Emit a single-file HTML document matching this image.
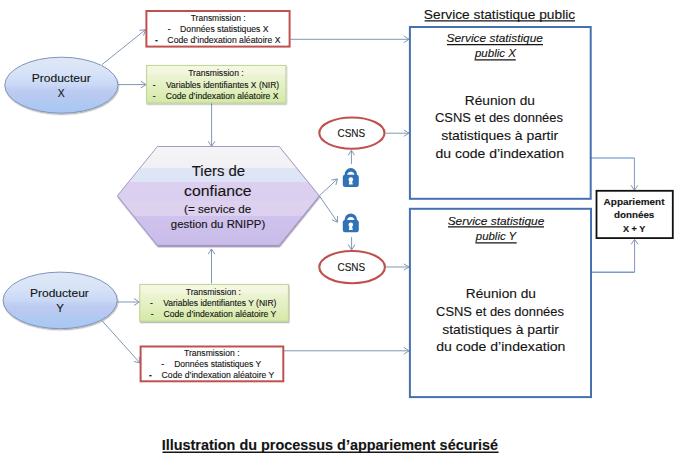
<!DOCTYPE html>
<html><head><meta charset="utf-8">
<style>
html,body{margin:0;padding:0;background:#fff;}
body{width:674px;height:465px;overflow:hidden;position:relative;}
svg{position:absolute;left:0;top:0;}
text{font-family:"Liberation Sans",sans-serif;fill:#141414;stroke:#141414;stroke-width:0.12px;}
</style></head><body>
<svg width="674" height="465" viewBox="0 0 674 465">
<defs>
  <linearGradient id="gBlue" x1="0" y1="0" x2="0" y2="1">
    <stop offset="0" stop-color="#dfe8f7"/>
    <stop offset="0.3" stop-color="#d6e2f7"/>
    <stop offset="0.5" stop-color="#c9d8f5"/>
    <stop offset="0.6" stop-color="#bccbf1"/>
    <stop offset="0.72" stop-color="#b9c8f0"/>
    <stop offset="0.8" stop-color="#afcaf3"/>
    <stop offset="1" stop-color="#a8c6f2"/>
  </linearGradient>
  <linearGradient id="gGreen" x1="0" y1="0" x2="0" y2="1">
    <stop offset="0" stop-color="#f5f7e2"/>
    <stop offset="0.22" stop-color="#f3f6de"/>
    <stop offset="0.25" stop-color="#ecf4d3"/>
    <stop offset="0.6" stop-color="#e2efc0"/>
    <stop offset="1" stop-color="#d4e9a6"/>
  </linearGradient>
  <linearGradient id="gHex" gradientUnits="userSpaceOnUse" x1="0" y1="146.5" x2="0" y2="245.4">
    <stop offset="0" stop-color="#f5f5f7"/>
    <stop offset="0.214" stop-color="#f1f1f5"/>
    <stop offset="0.214" stop-color="#dee5f5"/>
    <stop offset="0.358" stop-color="#dde4f5"/>
    <stop offset="0.358" stop-color="#dccff0"/>
    <stop offset="0.55" stop-color="#dbcff0"/>
    <stop offset="0.55" stop-color="#ded2ef"/>
    <stop offset="0.70" stop-color="#ddd0ee"/>
    <stop offset="0.70" stop-color="#cfc2ec"/>
    <stop offset="1" stop-color="#cabce9"/>
  </linearGradient>
  <filter id="sh2" x="-10%" y="-10%" width="120%" height="130%">
    <feDropShadow dx="0.5" dy="1.4" stdDeviation="0.6" flood-color="#2a1a50" flood-opacity="0.45"/>
  </filter>
  <filter id="sh" x="-10%" y="-10%" width="120%" height="130%">
    <feDropShadow dx="0.6" dy="1.3" stdDeviation="0.7" flood-color="#000" flood-opacity="0.28"/>
  </filter>
</defs>
<path d="M102,64.6 L145.5,29.7" fill="none" stroke="#8197b5" stroke-width="1.0"/><path d="M143.57,35.61 L145.50,29.70 L139.32,30.30" fill="none" stroke="#8197b5" stroke-width="1.0"/>
<path d="M117.5,84.6 L146,84.6" fill="none" stroke="#8197b5" stroke-width="1.0"/><path d="M140.80,88.00 L146.00,84.60 L140.80,81.20" fill="none" stroke="#8197b5" stroke-width="1.0"/>
<path d="M290.5,39.3 L409,39.3" fill="none" stroke="#8197b5" stroke-width="1.0"/><path d="M403.80,42.70 L409.00,39.30 L403.80,35.90" fill="none" stroke="#8197b5" stroke-width="1.0"/>
<path d="M211.6,103 L211.6,146.4" fill="none" stroke="#8197b5" stroke-width="1.0"/><path d="M208.20,141.20 L211.60,146.40 L215.00,141.20" fill="none" stroke="#8197b5" stroke-width="1.0"/>
<path d="M211.5,283.5 L211.5,249" fill="none" stroke="#8197b5" stroke-width="1.0"/><path d="M214.90,254.20 L211.50,249.00 L208.10,254.20" fill="none" stroke="#8197b5" stroke-width="1.0"/>
<path d="M319.3,195.8 L337.4,179" fill="none" stroke="#8197b5" stroke-width="1.0"/><path d="M335.90,185.03 L337.40,179.00 L331.28,180.05" fill="none" stroke="#8197b5" stroke-width="1.0"/>
<path d="M319.3,195.8 L337.6,222.2" fill="none" stroke="#8197b5" stroke-width="1.0"/><path d="M331.84,219.86 L337.60,222.20 L337.43,215.99" fill="none" stroke="#8197b5" stroke-width="1.0"/>
<path d="M351.4,164.1 L351.4,150.3" fill="none" stroke="#8197b5" stroke-width="1.0"/><path d="M354.60,155.30 L351.40,150.30 L348.20,155.30" fill="none" stroke="#8197b5" stroke-width="1.0"/>
<path d="M351.6,237 L351.6,250" fill="none" stroke="#8197b5" stroke-width="1.0"/><path d="M348.20,244.50 L351.60,250.00 L355.00,244.50" fill="none" stroke="#8197b5" stroke-width="1.0"/>
<path d="M385.4,133.2 L409,133.2" fill="none" stroke="#8197b5" stroke-width="1.0"/><path d="M403.90,136.30 L409.00,133.20 L403.90,130.10" fill="none" stroke="#8197b5" stroke-width="1.0"/>
<path d="M385.4,267 L409,267" fill="none" stroke="#8197b5" stroke-width="1.0"/><path d="M403.90,270.10 L409.00,267.00 L403.90,263.90" fill="none" stroke="#8197b5" stroke-width="1.0"/>
<path d="M117.3,302 L139.3,302" fill="none" stroke="#8197b5" stroke-width="1.0"/><path d="M134.10,305.40 L139.30,302.00 L134.10,298.60" fill="none" stroke="#8197b5" stroke-width="1.0"/>
<path d="M101.9,320.6 L140,363" fill="none" stroke="#8197b5" stroke-width="1.0"/><path d="M134.00,361.40 L140.00,363.00 L139.05,356.86" fill="none" stroke="#8197b5" stroke-width="1.0"/>
<path d="M283.3,350.8 L409,350.8" fill="none" stroke="#8197b5" stroke-width="1.0"/><path d="M403.80,354.20 L409.00,350.80 L403.80,347.40" fill="none" stroke="#8197b5" stroke-width="1.0"/>
<path d="M591,158 H634.4" stroke="#a9c3e6" stroke-width="1.8" fill="none"/>
<path d="M634.4,158 L634.4,190.2" fill="none" stroke="#8197b5" stroke-width="1.0"/><path d="M630.90,185.20 L634.40,190.20 L637.90,185.20" fill="none" stroke="#8197b5" stroke-width="1.0"/>
<path d="M591,272.3 H634.6" stroke="#7b9cc8" stroke-width="1.4" fill="none"/>
<path d="M634.6,272.3 L634.6,239.4" fill="none" stroke="#8197b5" stroke-width="1.0"/><path d="M638.10,244.40 L634.60,239.40 L631.10,244.40" fill="none" stroke="#8197b5" stroke-width="1.0"/>
<ellipse cx="61.4" cy="85.2" rx="56.6" ry="28" fill="url(#gBlue)" stroke="#8093b8" stroke-width="1" filter="url(#sh)"/>
<ellipse cx="60.2" cy="300.4" rx="57.1" ry="28.3" fill="url(#gBlue)" stroke="#8093b8" stroke-width="1" filter="url(#sh)"/>
<rect x="146.4" y="11" width="143.2" height="35.6" fill="#fff" stroke="#c0504d" stroke-width="2"/>
<rect x="146.6" y="65.4" width="139.3" height="37.6" fill="url(#gGreen)" stroke="#bcd392" stroke-width="1" filter="url(#sh)"/>
<rect x="139.8" y="284.4" width="148.6" height="36.9" fill="url(#gGreen)" stroke="#bcd392" stroke-width="1" filter="url(#sh)"/>
<rect x="140.6" y="346.5" width="142.7" height="34.8" fill="#fff" stroke="#c0504d" stroke-width="2"/>
<polygon points="157.4,146.5 279.2,146.5 319.3,195.8 279.2,245.4 157.4,245.4 117.4,195.8" fill="url(#gHex)" stroke="#9c90c0" stroke-width="0.9" filter="url(#sh2)"/>
<ellipse cx="351.9" cy="133.1" rx="32.6" ry="15.6" fill="#fff" stroke="#c0504d" stroke-width="2.1"/>
<ellipse cx="352.1" cy="267.1" rx="32.8" ry="16.1" fill="#fff" stroke="#c0504d" stroke-width="2.1"/>
<path d="M344.60,176.10 V174.30 A6.2,6.2 0 0 1 357.00,174.30 V176.10 H354.40 V175.30 A3.6,3.6 0 0 0 347.20,175.30 V176.10 Z" fill="#2f73b6"/><rect x="342.80" y="174.80" width="16" height="12.1" rx="2.2" fill="#2f73b6"/><circle cx="350.80" cy="179.50" r="2.3" fill="#fff"/><path d="M349.70,180.10 L351.90,180.10 L352.80,184.60 L348.80,184.60 Z" fill="#fff"/>
<path d="M344.60,221.40 V219.60 A6.2,6.2 0 0 1 357.00,219.60 V221.40 H354.40 V220.60 A3.6,3.6 0 0 0 347.20,220.60 V221.40 Z" fill="#2f73b6"/><rect x="342.80" y="220.10" width="16" height="12.1" rx="2.2" fill="#2f73b6"/><circle cx="350.80" cy="224.80" r="2.3" fill="#fff"/><path d="M349.70,225.40 L351.90,225.40 L352.80,229.90 L348.80,229.90 Z" fill="#fff"/>
<rect x="409.9" y="27" width="180.8" height="171.8" fill="none" stroke="#4670ae" stroke-width="2"/>
<rect x="409.9" y="208.8" width="181.1" height="188.3" fill="none" stroke="#4670ae" stroke-width="2"/>
<rect x="596.5" y="190.8" width="76.3" height="47.3" fill="#fff" stroke="#111" stroke-width="1.8"/>
<path d="M424.6,20.9 H575" stroke="#151515" stroke-width="1.2"/>
<path d="M447,44.7 H543" stroke="#151515" stroke-width="1.3"/>
<path d="M474.5,59.9 H515.8" stroke="#151515" stroke-width="1.3"/>
<path d="M448,226.8 H544" stroke="#151515" stroke-width="1.3"/>
<path d="M475.4,242.9 H516.7" stroke="#151515" stroke-width="1.3"/>
<path d="M162.5,452.3 H498.6" stroke="#151515" stroke-width="1.5"/>
<g>
<text x="190.75" y="20.7" font-size="8.5" textLength="54.85" lengthAdjust="spacingAndGlyphs" stroke-width="0.22">Transmission :</text>
<text x="167.75" y="31.8" font-size="8.5" font-weight="400">-</text>
<text x="180.14" y="31.8" font-size="8.5" textLength="88.37" lengthAdjust="spacingAndGlyphs" stroke-width="0.22">Données statistiques X</text>
<text x="154.88" y="43" font-size="8.5" font-weight="700">-</text>
<text x="167.39" y="43" font-size="8.5" textLength="113.13" lengthAdjust="spacingAndGlyphs" stroke-width="0.22">Code d’indexation aléatoire X</text>
<text x="188.15" y="76" font-size="8.5" textLength="55.56" lengthAdjust="spacingAndGlyphs" stroke-width="0.22">Transmission :</text>
<text x="152.75" y="88.0" font-size="8.5" font-weight="400">-</text>
<text x="166.05" y="88.0" font-size="8.5" textLength="113.13" lengthAdjust="spacingAndGlyphs" stroke-width="0.22">Variables identifiantes X (NIR)</text>
<text x="152.75" y="98.9" font-size="8.5" font-weight="400">-</text>
<text x="165.79" y="98.9" font-size="8.5" textLength="112.72" lengthAdjust="spacingAndGlyphs" stroke-width="0.22">Code d’indexation aléatoire X</text>
<text x="185.75" y="294.5" font-size="8.5" textLength="55.16" lengthAdjust="spacingAndGlyphs" stroke-width="0.22">Transmission :</text>
<text x="150.00" y="306.0" font-size="8.5" font-weight="400">-</text>
<text x="163.15" y="306.0" font-size="8.5" textLength="113.27" lengthAdjust="spacingAndGlyphs" stroke-width="0.22">Variables identifiantes Y (NIR)</text>
<text x="150.80" y="316.5" font-size="8.5" font-weight="400">-</text>
<text x="163.49" y="316.5" font-size="8.5" textLength="112.92" lengthAdjust="spacingAndGlyphs" stroke-width="0.22">Code d’indexation aléatoire Y</text>
<text x="183.95" y="355.5" font-size="8.5" textLength="55.67" lengthAdjust="spacingAndGlyphs" stroke-width="0.22" fill="#4a4a4a" stroke="#4a4a4a">Transmission :</text>
<text x="161.35" y="366.7" font-size="8.5" font-weight="400">-</text>
<text x="174.15" y="366.7" font-size="8.5" textLength="87.15" lengthAdjust="spacingAndGlyphs" stroke-width="0.22">Données statistiques Y</text>
<text x="149.07" y="377.6" font-size="8.5" font-weight="700">-</text>
<text x="161.59" y="377.6" font-size="8.5" textLength="112.82" lengthAdjust="spacingAndGlyphs" stroke-width="0.22">Code d’indexation aléatoire Y</text>
<text x="423.89" y="19" font-size="12.8" textLength="151.27" lengthAdjust="spacingAndGlyphs">Service statistique public</text>
<text x="446.57" y="42.2" font-size="11.3" textLength="96.37" lengthAdjust="spacingAndGlyphs" font-style="italic">Service statistique</text>
<text x="474.96" y="57.4" font-size="11.3" textLength="41.04" lengthAdjust="spacingAndGlyphs" font-style="italic">public X</text>
<text x="447.67" y="224.7" font-size="11.3" textLength="96.67" lengthAdjust="spacingAndGlyphs" font-style="italic">Service statistique</text>
<text x="475.85" y="239.8" font-size="11.3" textLength="40.34" lengthAdjust="spacingAndGlyphs" font-style="italic">public Y</text>
<text x="464.76" y="104.5" font-size="13.2" textLength="70.15" lengthAdjust="spacingAndGlyphs">Réunion du</text>
<text x="434.96" y="122.2" font-size="13.2" textLength="128.03" lengthAdjust="spacingAndGlyphs">CSNS et des données</text>
<text x="441.17" y="140.3" font-size="13.2" textLength="117.03" lengthAdjust="spacingAndGlyphs">statistiques à partir</text>
<text x="435.47" y="158.3" font-size="13.2" textLength="128.48" lengthAdjust="spacingAndGlyphs">du code d’indexation</text>
<text x="465.86" y="297.8" font-size="13.2" textLength="70.04" lengthAdjust="spacingAndGlyphs">Réunion du</text>
<text x="436.06" y="315.6" font-size="13.2" textLength="127.93" lengthAdjust="spacingAndGlyphs">CSNS et des données</text>
<text x="442.27" y="333.6" font-size="13.2" textLength="116.62" lengthAdjust="spacingAndGlyphs">statistiques à partir</text>
<text x="436.27" y="351.2" font-size="13.2" textLength="129.18" lengthAdjust="spacingAndGlyphs">du code d’indexation</text>
<text x="31.71" y="81.6" font-size="11.1" textLength="58.99" lengthAdjust="spacingAndGlyphs">Producteur</text>
<text x="57.77" y="97.2" font-size="11.1" textLength="6.91" lengthAdjust="spacingAndGlyphs">X</text>
<text x="29.91" y="296.8" font-size="11.1" textLength="58.99" lengthAdjust="spacingAndGlyphs">Producteur</text>
<text x="56.18" y="312.4" font-size="11.1" textLength="7.63" lengthAdjust="spacingAndGlyphs">Y</text>
<text x="191.76" y="175.8" font-size="15.4" textLength="53.40" lengthAdjust="spacingAndGlyphs">Tiers de</text>
<text x="184.12" y="195.5" font-size="15.2" textLength="67.47" lengthAdjust="spacingAndGlyphs">confiance</text>
<text x="184.12" y="212.5" font-size="11.2" textLength="67.06" lengthAdjust="spacingAndGlyphs">(= service de</text>
<text x="170.89" y="227.5" font-size="11.2" textLength="94.38" lengthAdjust="spacingAndGlyphs">gestion du RNIPP)</text>
<text x="337.46" y="137" font-size="11.3" textLength="27.69" lengthAdjust="spacingAndGlyphs">CSNS</text>
<text x="337.46" y="271.4" font-size="11.3" textLength="27.69" lengthAdjust="spacingAndGlyphs">CSNS</text>
<text x="603.63" y="204.5" font-size="9.4" textLength="60.83" lengthAdjust="spacingAndGlyphs" font-weight="700" stroke-width="0">Appariement</text>
<text x="613.98" y="217.8" font-size="9.4" textLength="40.35" lengthAdjust="spacingAndGlyphs" font-weight="700" stroke-width="0">données</text>
<text x="622.96" y="231.6" font-size="9.4" textLength="22.31" lengthAdjust="spacingAndGlyphs" font-weight="700" stroke-width="0">X + Y</text>
<text x="161.73" y="449.8" font-size="14.9" textLength="336.41" lengthAdjust="spacingAndGlyphs" font-weight="700" stroke-width="0">Illustration du processus d’appariement sécurisé</text>
</g>
</svg>
</body></html>
